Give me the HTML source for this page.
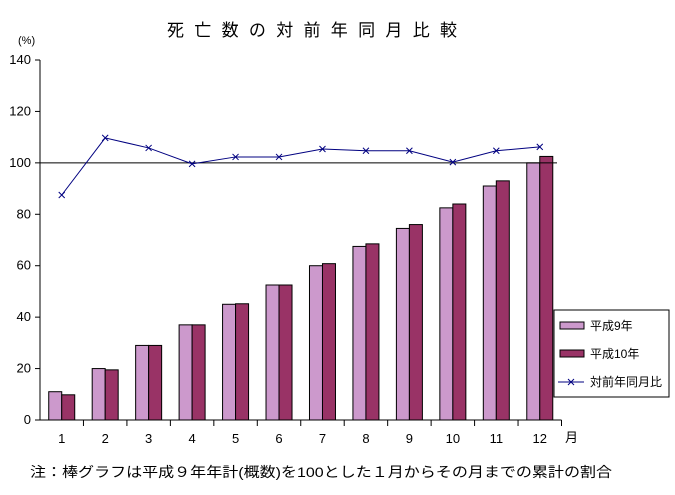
<!DOCTYPE html><html><head><meta charset="utf-8"><style>
body{margin:0;background:#fff;width:675px;height:490px;overflow:hidden;font-family:"Liberation Sans","Noto Sans CJK JP",sans-serif}
</style></head><body>
<svg id="c" width="675" height="490" font-family="Liberation Sans, Noto Sans CJK JP, sans-serif">
<text x="167" y="36" font-size="17" textLength="290" lengthAdjust="spacing">死亡数の対前年同月比較</text>
<text x="18" y="44" font-size="11">(%)</text>
<text x="565" y="442" font-size="13">月</text>
<text x="30" y="477" font-size="14" textLength="582" lengthAdjust="spacingAndGlyphs">注：棒グラフは平成９年年計(概数)を100とした１月からその月までの累計の割合</text>
<g id="g"></g>
<g>
<rect x="554" y="310" width="115" height="87" fill="#fff" stroke="#000"/>
<rect x="560" y="322" width="24" height="7" fill="#cc99cc" stroke="#000"/>
<text x="590" y="330" font-size="12">平成9年</text>
<rect x="560" y="350" width="24" height="7" fill="#993366" stroke="#000"/>
<text x="590" y="358" font-size="12">平成10年</text>
<line x1="558" y1="382" x2="584" y2="382" stroke="#000080"/>
<path d="M568,379l6,6M574,379l-6,6" stroke="#000080"/>
<text x="590" y="386" font-size="12">対前年同月比</text>
</g>
</svg>
<script>
const categories=["1","2","3","4","5","6","7","8","9","10","11","12"];
const h9=[11,20,29,37,45,52.5,60,67.5,74.5,82.5,91,100];
const h10=[9.8,19.5,29,37,45.2,52.5,60.8,68.5,76,84,93,102.5];
const ratio=[87.5,109.7,105.8,99.6,102.3,102.3,105.4,104.7,104.7,100.3,104.7,106.2];
const yTicks=[0,20,40,60,80,100,120,140];
const NS="http://www.w3.org/2000/svg",g=document.getElementById('g');
const x0=40,x1=561.5,cw=(x1-x0)/categories.length;
const y=v=>420-v*(360/140);
function mk(t,a){const e=document.createElementNS(NS,t);for(const k in a)e.setAttribute(k,a[k]);g.appendChild(e);return e;}
yTicks.forEach(v=>{
 const l=mk('line',{x1:35,x2:40,y1:y(v),y2:y(v),stroke:'#000'});
 
 
 const t=mk('text',{x:31,y:y(v)+4,'font-size':13,'text-anchor':'end'});t.textContent=v;
 
 
});
categories.forEach((c,i)=>{
 const cx=x0+cw*(i+0.5);
 const t=mk('text',{x:cx,y:443,'font-size':13,'text-anchor':'middle'});t.textContent=c;
 
 
 const tk=mk('line',{x1:x0+cw*(i+1),x2:x0+cw*(i+1),y1:420,y2:426,stroke:'#000'});
 
 
 const b1=mk('rect',{x:cx-13,y:y(h9[i]),width:13,height:420-y(h9[i]),fill:'#cc99cc',stroke:'#000'});
 
 
 const b2=mk('rect',{x:cx,y:y(h10[i]),width:13,height:420-y(h10[i]),fill:'#993366',stroke:'#000'});
 
 
});
const ref=mk('line',{x1:x0,x2:557,y1:y(100),y2:y(100),stroke:'#000'});


const ax=mk('path',{d:`M40,${y(140)}V420H${x1}`,fill:'none',stroke:'#000'});


const pts=ratio.map((v,i)=>[x0+cw*(i+0.5),y(v)]);
const pl=mk('polyline',{points:pts.map(p=>p.join(',')).join(' '),fill:'none',stroke:'#000080'});


pts.forEach(p=>{
 const m=mk('path',{d:`M${p[0]-3},${p[1]-3}l6,6M${p[0]+3},${p[1]-3}l-6,6`,stroke:'#000080'});
 
 
});
</script>
</body></html>
